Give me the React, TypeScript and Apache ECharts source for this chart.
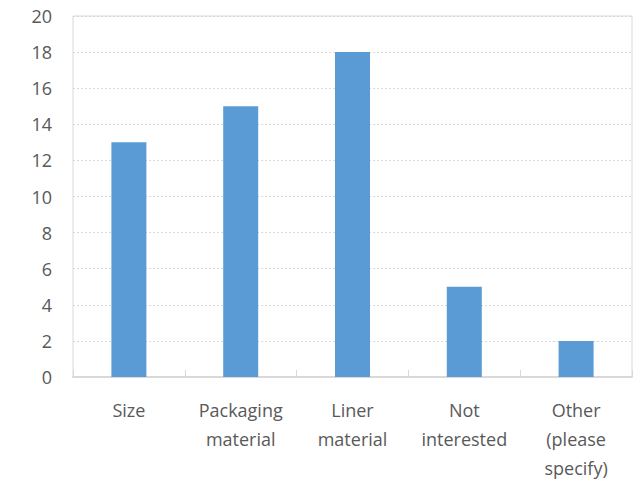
import React, { useEffect, useRef } from "react";
import * as echarts from "echarts";

const categories = ["Size", "Packaging\nmaterial", "Liner\nmaterial", "Not\ninterested", "Other\n(please\nspecify)"];
const values = [13, 15, 18, 5, 2];
const yTicks = { min: 0, max: 20, interval: 2 };

export default function App() {
  const ref = useRef<HTMLDivElement>(null);
  useEffect(() => {
    const chart = echarts.init(ref.current!, null, { renderer: "svg" });
    chart.setOption({
      animation: false,
      grid: { left: 73, right: 12, top: 16, bottom: 104, show: true, borderColor: "#d9d9d9", borderWidth: 1 },
      xAxis: {
        type: "category",
        data: categories,
        axisLine: { show: true, lineStyle: { color: "#d9d9d9", width: 2 } },
        axisTick: { show: true, inside: true, length: 7, lineStyle: { color: "#d9d9d9" } },
        axisLabel: { color: "#595959", fontFamily: "Open Sans", fontSize: 18, lineHeight: 29, margin: 18, interval: 0 },
      },
      yAxis: {
        type: "value",
        min: yTicks.min,
        max: yTicks.max,
        interval: yTicks.interval,
        axisLine: { show: false },
        axisTick: { show: false },
        axisLabel: { color: "#595959", fontFamily: "Open Sans", fontSize: 18, margin: 21 },
        splitLine: { lineStyle: { color: "#d9d9d9", type: [2, 2] } },
      },
      series: [
        {
          type: "bar",
          data: values,
          barWidth: 35,
          itemStyle: { color: "#5B9BD5" },
        },
      ],
    });
    return () => chart.dispose();
  }, []);
  return <div ref={ref} style={{ width: 644, height: 482, position: "absolute", left: 0, top: 0 }} />;
}
